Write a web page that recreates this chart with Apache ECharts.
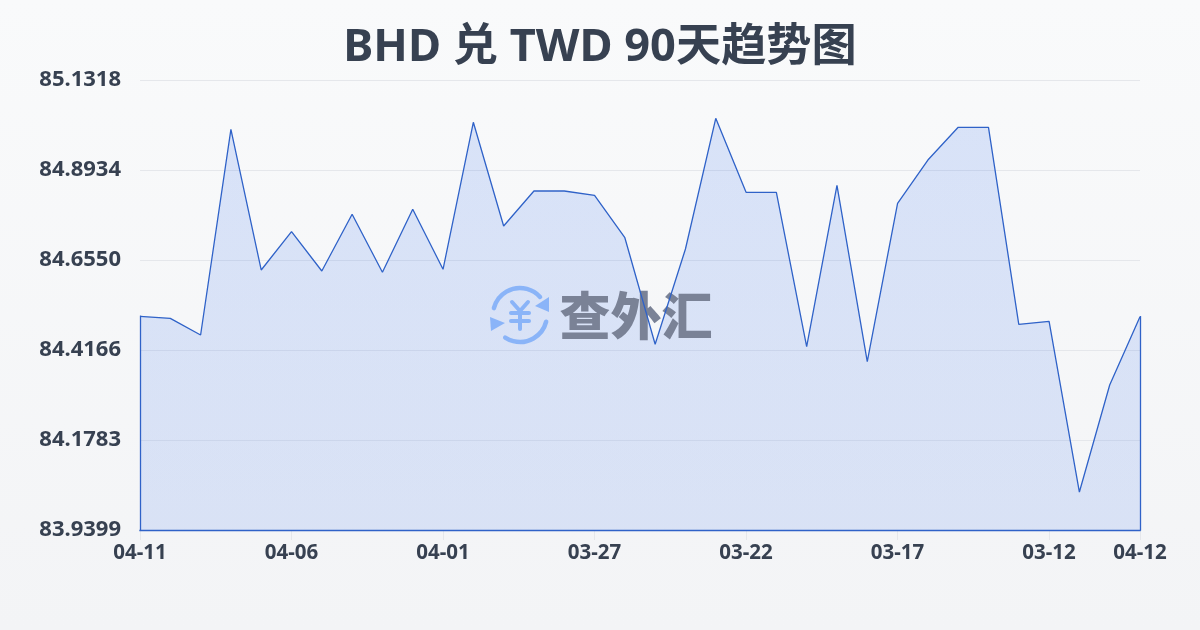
<!DOCTYPE html>
<html>
<head>
<meta charset="utf-8">
<style>html,body{margin:0;padding:0;background:#f9fafb}#c{width:1200px;height:630px}</style>
<script src="https://cdn.jsdelivr.net/npm/echarts@6/dist/echarts.min.js"></script>
</head>
<body>
<div id="c"></div>
<script>
const titleText = 'BHD 兑 TWD 90天趋势图';
const categories = ['04-11','04-10','04-09','04-08','04-07','04-06','04-05','04-04','04-03','04-02','04-01','03-31','03-30','03-29','03-28','03-27','03-26','03-25','03-24','03-23','03-22','03-21','03-20','03-19','03-18','03-17','03-16','03-15','03-14','03-13','03-12','03-11','03-10','04-12'];
const rates = [84.5059,84.5006,84.4564,85.0012,84.6286,84.7300,84.6259,84.7761,84.6225,84.7893,84.6304,85.0198,84.7451,84.8378,84.8378,84.8264,84.7141,84.4318,84.6842,85.0304,84.8344,84.8344,84.4254,84.8529,84.3857,84.8052,84.9199,85.0065,85.0065,84.4847,84.4927,84.0405,84.3240,84.5049];
const yTicks = [83.9399,84.1783,84.4166,84.6550,84.8934,85.1318];
const xLabelIndexes = [0,5,10,15,20,25,30,33];

const yMin = yTicks[0], yMax = yTicks[yTicks.length-1];
const lastIdx = categories.length-1;
const showX = (i) => xLabelIndexes.includes(i);
const ink = '#374151', lineBlue = '#2f62c8', iconBlue = '#8ab4f8';
const sans = '"Noto Sans","Noto Sans CJK SC",sans-serif';
const yenStroke = {fill:null,stroke:iconBlue,lineWidth:4,lineCap:'round',lineJoin:'round'};

const chart = echarts.init(document.getElementById('c'), null, {renderer:'canvas', width:1200, height:630});
chart.setOption({
  animation:false,
  backgroundColor:new echarts.graphic.LinearGradient(0,0,0,1,[{offset:0,color:'#f9fafb'},{offset:1,color:'#f3f4f6'}]),
  title:{text:titleText,left:'center',top:13,textStyle:{color:ink,fontFamily:sans,fontWeight:'bold',fontSize:45.2,lineHeight:60}},
  grid:{left:140,right:60,top:80,bottom:100},
  xAxis:{type:'category',boundaryGap:false,data:categories,
    axisLine:{show:false},
    axisTick:{show:true,length:10,interval:(i)=>showX(i),lineStyle:{color:'#e5e7eb',width:1}},
    axisLabel:{interval:(i)=>showX(i),color:ink,fontFamily:sans,fontWeight:'bold',fontSize:20.5,margin:13,hideOverlap:false,showMinLabel:true,showMaxLabel:true}},
  yAxis:{type:'value',min:yMin,max:yMax,
    axisLine:{show:false},
    axisLabel:{customValues:yTicks,formatter:(v)=>v.toFixed(4),color:ink,fontFamily:sans,fontWeight:'bold',fontSize:22,margin:19,padding:[0,0,2,0]},
    axisTick:{show:false,customValues:yTicks},
    splitLine:{show:true,lineStyle:{color:'#e5e7eb',width:1}}},
  series:[
    {name:'area',type:'line',z:1,data:rates,symbol:'none',silent:true,
     lineStyle:{width:0},
     areaStyle:{origin:'start',opacity:1,color:new echarts.graphic.LinearGradient(0,0,0,1,[{offset:0,color:'rgba(37,99,235,0.15)'},{offset:1,color:'rgba(37,99,235,0.13)'}])}},
    {name:'rate',type:'line',z:10,data:rates,symbol:'none',silent:true,
     lineStyle:{color:lineBlue,width:1.3},
     markLine:{silent:true,symbol:'none',label:{show:false},animation:false,
       lineStyle:{color:lineBlue,width:1.3,type:'solid',cap:'square'},
       data:[
         [{xAxis:0,yAxis:yMin},{xAxis:0,yAxis:rates[0]}],
         [{xAxis:lastIdx,yAxis:yMin},{xAxis:lastIdx,yAxis:rates[lastIdx]}],
         [{xAxis:0,yAxis:yMin},{xAxis:lastIdx,yAxis:yMin}]
       ]}}
  ],
  graphic:[
    {type:'arc',z:5,shape:{cx:520,cy:315,r:27,startAngle:3.4,endAngle:5.55,clockwise:true},style:{fill:null,stroke:iconBlue,lineWidth:4.5,lineCap:'round'}},
    {type:'arc',z:5,shape:{cx:520,cy:315,r:27,startAngle:0.25,endAngle:2.15,clockwise:true},style:{fill:null,stroke:iconBlue,lineWidth:4.5,lineCap:'round'}},
    {type:'polygon',z:5,shape:{points:[[549,297],[549,312],[535,306]]},style:{fill:iconBlue}},
    {type:'polygon',z:5,shape:{points:[[490,317],[491,331],[505,323]]},style:{fill:iconBlue}},
    {type:'polyline',z:5,shape:{points:[[512,302],[520,311],[528,302]]},style:yenStroke},
    {type:'polyline',z:5,shape:{points:[[511,313],[529,313]]},style:yenStroke},
    {type:'polyline',z:5,shape:{points:[[511,321],[529,321]]},style:yenStroke},
    {type:'polyline',z:5,shape:{points:[[520,311],[520,329]]},style:yenStroke},
    {type:'text',z:5,style:{text:'查外汇',x:636,y:316,align:'center',verticalAlign:'middle',fill:'#7a8296',font:'900 51px "Noto Sans CJK SC"'}}
  ]
});
</script>
</body>
</html>
